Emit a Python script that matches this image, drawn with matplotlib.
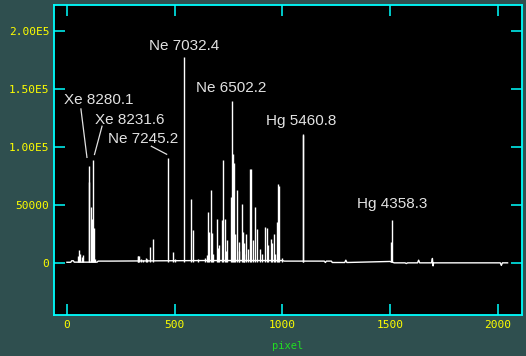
import numpy as np
import matplotlib.pyplot as plt

# continuum / baseline of the arc spectrum (pixel, counts)
base_px = [0, 18, 22, 30, 34, 140, 145, 150, 200, 640, 1000, 1010, 1195, 1200, 1205,
           1228, 1232, 1290, 1295, 1300, 1500, 1520, 1570, 1576, 1582, 1628, 1633,
           1638, 1693, 1697, 1700, 1703, 2012, 2017, 2022, 2046]
base_ct = [500, 500, 1800, 1800, 600, 600, 1500, 1500, 1500, 2000, 2000, 1500, 1500, 300, 1500,
           1500, 300, 300, 2300, 300, 1200, 0, 0, -600, 0, 0, 2300,
           0, 0, 3800, -2600, 0, 0, -2200, 0, 0]

# emission lines (pixel, peak counts)
peak_px = [50, 57, 62, 68, 74, 101, 104, 110, 116, 121, 126, 130,
           329, 332, 335, 345, 355, 365, 372, 385, 398,
           469, 492, 500, 542, 578, 585, 610, 640, 650,
           653, 658, 667, 672, 680, 695, 700, 705, 718, 727, 732, 740, 745,
           760, 765, 769, 774, 780, 788, 797, 800, 811, 816, 820, 824, 830,
           840, 852, 856, 865, 871, 881, 895, 905, 922, 927, 935, 946, 951,
           960, 965, 975, 978, 987, 1000, 1095, 1097, 1508, 1506]
peak_ct = [6000, 11500, 8000, 5000, 6500, 70000, 84000, 48000, 38000, 89000, 30500, 3000,
           5700, 5700, 5700, 3500, 2500, 4000, 3000, 13800, 21000,
           90800, 9000, 3000, 177600, 55000, 28000, 3000, 4000, 6600,
           43700, 26700, 63000, 26000, 8000, 38000, 12500, 15000, 36800, 88500, 38000, 10000, 20000,
           57000, 140000, 94000, 86000, 25000, 63000, 18000, 10000, 50600, 26700, 8000, 16700, 25300,
           12000, 81400, 81400, 20000, 47800, 29600, 11800, 8000, 31000, 30000, 15000, 21000, 16700,
           24700, 8000, 35000, 67800, 66000, 4000, 111500, 110000, 36800, 17800]

# line identifications: text, text x, text baseline y
labels = ["Ne 7032.4", "Ne 6502.2", "Hg 5460.8", "Hg 4358.3",
          "Xe 8280.1", "Xe 8231.6", "Ne 7245.2"]
label_x = [546, 761, 1090, 1510, 147, 293, 356]
label_y = [183400, 147200, 118750, 46900, 137500, 120200, 103000]

# leader lines for the crowded labels: (x0, y0, x1, y1)
leaders = [(65, 132800, 93, 91000),
           (163, 117900, 128, 93500),
           (392, 100600, 463, 93700)]

xticks = [0, 500, 1000, 1500, 2000]
yticks = [0, 50000, 100000, 150000, 200000]
ytick_labels = ["0", "50000", "1.00E5", "1.50E5", "2.00E5"]

bg = "#2f4f4f"
cyan = "#00ffff"
yellow = "#ffff00"

fig = plt.figure(figsize=(5.26, 3.56), dpi=100, facecolor=bg)
ax = fig.add_axes([54 / 526, 1 - 315 / 356, (522 - 54) / 526, (315 - 5) / 356])
ax.set_facecolor("black")

ax.plot(base_px, base_ct, color="white", lw=1.0)
ax.vlines(peak_px, 1000, peak_ct, color="white", lw=1.0)

for t, x, y in zip(labels, label_x, label_y):
    ax.text(x, y, t, ha="center", va="baseline", color="#e2e2e2",
            fontsize=11, family="Liberation Sans")
for x0, y0, x1, y1 in leaders:
    ax.plot([x0, x1], [y0, y1], color="#e2e2e2", lw=0.9)

ax.set_xlim(-60, 2113)
ax.set_ylim(-45000, 222500)

ax.set_xticks(xticks)
ax.set_xticklabels([str(v) for v in xticks])
ax.set_yticks(yticks)
ax.set_yticklabels(ytick_labels)
ax.minorticks_off()
ax.tick_params(direction="in", length=8, width=1.1, color=cyan,
               top=True, right=True, labelcolor=yellow, labelsize=8, pad=3.5)
for lab in ax.get_xticklabels() + ax.get_yticklabels():
    lab.set_family("DejaVu Sans Mono")

for s in ax.spines.values():
    s.set_color(cyan)
    s.set_linewidth(1.3)

ax.set_xlabel("pixel", color="#22dd22", fontsize=7.5, family="DejaVu Sans Mono", labelpad=8)

plt.savefig("out.png", dpi=100, facecolor=bg)
